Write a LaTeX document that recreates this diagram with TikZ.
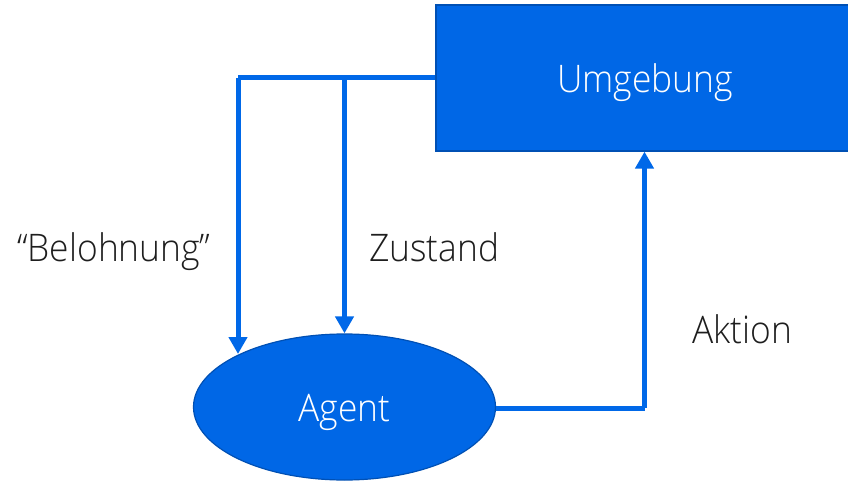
\documentclass[tikz,border=0pt]{standalone}
\usepackage{fontspec}
\setmainfont{Open Sans}[UprightFont=* Light, FakeStretch=0.93]
\usetikzlibrary{arrows.meta,shapes.geometric}
\definecolor{boxblue}{HTML}{0067E6}
\definecolor{edgeblue}{HTML}{0050B4}
\definecolor{lineblue}{HTML}{0068E8}
\definecolor{labelgray}{HTML}{1E1E1E}
\tikzset{
  bigtext/.style={font=\fontsize{38}{44}\selectfont},
  envbox/.style={draw=edgeblue, line width=1.2pt, fill=boxblue,
    minimum width=418pt, minimum height=146pt, inner sep=0pt},
  agentshape/.style={ellipse, draw=edgeblue, line width=1.2pt, fill=boxblue,
    minimum width=302pt, minimum height=146pt, inner sep=0pt},
  flow/.style={draw=lineblue, line width=5pt, line join=round,
    -{Triangle[length=17pt,width=18pt]}},
  flowplain/.style={draw=lineblue, line width=5pt, line join=round},
  lbl/.style={bigtext, text=labelgray, inner sep=0pt, anchor=base west},
  inlbl/.style={bigtext, text=white, inner sep=0pt, anchor=base}
}
\begin{document}
\begin{tikzpicture}[x=1pt,y=-1pt]
  \useasboundingbox (0,0) rectangle (848,481);
  \begin{scope}
    \clip (0,0) rectangle (848,481);
    % environment block and agent
    \node[envbox] (env) at (645,78) {};
    \node[agentshape] (agent) at (344.5,407) {};
    \node[inlbl] (envtxt) at (645,93) {Umgebung};
    \node[inlbl] (agenttxt) at (344.5,421) {Agent};
    % connector points
    \coordinate (split) at (344.5,78);
    \coordinate (corner) at (238,78);
    \coordinate (rewardtip) at (238,354);
    \coordinate (turn) at (644.5,408);
    % observation and reward
    \draw[flowplain] (env.west |- split) -- (corner);
    \draw[flow] (corner) -- (rewardtip);
    \draw[flow] (split) -- (agent.north);
    % action
    \draw[flowplain] (agent.east |- turn) -- (turn);
    \draw[flow] (turn) -- (turn |- env.south);
  \end{scope}
  % labels
  \node[lbl] (lbelohnung) at (17,261) {“Belohnung”};
  \node[lbl] (lzustand) at (369,261) {Zustand};
  \node[lbl] (laktion) at (692,343) {Aktion};
\end{tikzpicture}
\end{document}
